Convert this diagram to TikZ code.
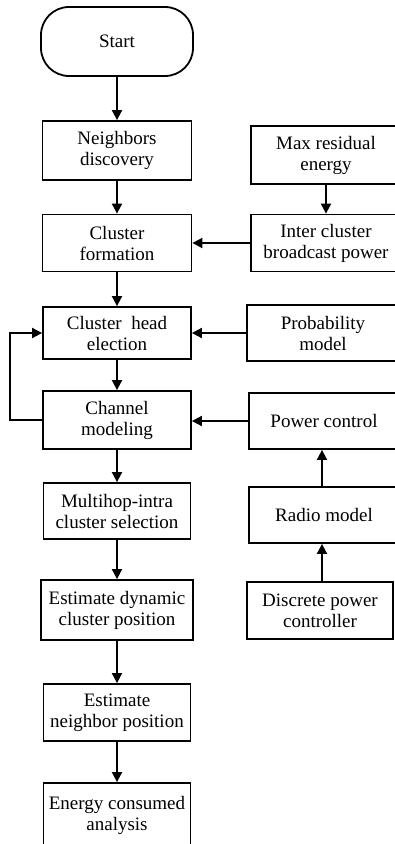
\documentclass[tikz,border=0pt]{standalone}
\usepackage{fontspec}
\setmainfont{Liberation Serif}
\usetikzlibrary{arrows.meta}

\begin{document}
\begin{tikzpicture}[x=1pt, y=-1pt,
    box/.style={draw, line width=1.8pt, rectangle, inner sep=0pt, align=center,
                font=\fontsize{19}{21}\selectfont, minimum height=57pt},
    flow/.style={line width=1.8pt, arrows=-{Triangle[length=10pt,width=10pt]}}]
          \useasboundingbox (0,0) rectangle (395,844);
          \clip (0,0) rectangle (395,844);

          \node [box, rounded corners=28pt, minimum width=152pt, minimum height=69pt] (start) at (117,41.5) {Start}; % Draws the start
          \node [box, minimum width=149pt, minimum height=59pt] (neigh) at (117,150.5) {Neighbors\\discovery};
          \node [box, minimum width=149pt] (form) at (117,243) {Cluster\\formation};
          \node [box, minimum width=148pt, minimum height=52pt] (head) at (117,333) {Cluster~ head\\election};
          \node [box, minimum width=148pt, minimum height=58pt] (chan) at (117,420) {Channel\\modeling};
          \node [box, minimum width=147pt, minimum height=56pt] (multi) at (117,511) {Multihop-intra\\cluster selection};
          \node [box, minimum width=152pt, minimum height=60pt] (estdyn) at (117,610) {Estimate dynamic\\cluster position};
          \node [box, minimum width=147pt] (estnb) at (117,712.5) {Estimate\\neighbor position};
          \node [box, minimum width=147pt, minimum height=64pt] (energy) at (117,815) {Energy consumed\\analysis};

          \node [box, minimum width=150pt, minimum height=58pt] (maxres) at (326,155) {Max residual\\energy}; % right column
          \node [box, minimum width=150pt] (inter) at (326,243) {Inter cluster\\broadcast power};
          \node [box, minimum width=152pt, minimum height=56pt] (prob) at (323,333) {Probability\\model};
          \node [box, minimum width=150pt, minimum height=56pt] (power) at (324,421) {Power control};
          \node [box, minimum width=150pt, minimum height=56pt] (radio) at (324,515) {Radio model};
          \node [box, minimum width=146pt] (discrete) at (320,610.5) {Discrete power\\controller};

          \coordinate (loopbot) at (10,420);
          \coordinate (looptop) at (10,333);

          \draw [flow] (start) -- (neigh);
          \draw [flow] (neigh) -- (form);
          \draw [flow] (form) -- (head);
          \draw [flow] (head) -- (chan);
          \draw [flow] (chan) -- (multi);
          \draw [flow] (multi) -- (estdyn);
          \draw [flow] (estdyn) -- (estnb);
          \draw [flow] (estnb) -- (energy);

          \draw [flow] (maxres) -- (inter);
          \draw [flow] (inter) -- (form);
          \draw [flow] (prob) -- (head);
          \draw [flow] (power.west) -- (power.west -| chan.east);
          \draw [flow] (radio.north -| 322,0) -- (power.south -| 322,0);
          \draw [flow] (discrete.north -| 322,0) -- (radio.south -| 322,0);

          \draw [flow] (chan.west) -- (loopbot) -- (looptop) -- (head.west); % loop back
        \end{tikzpicture}
\end{document}
